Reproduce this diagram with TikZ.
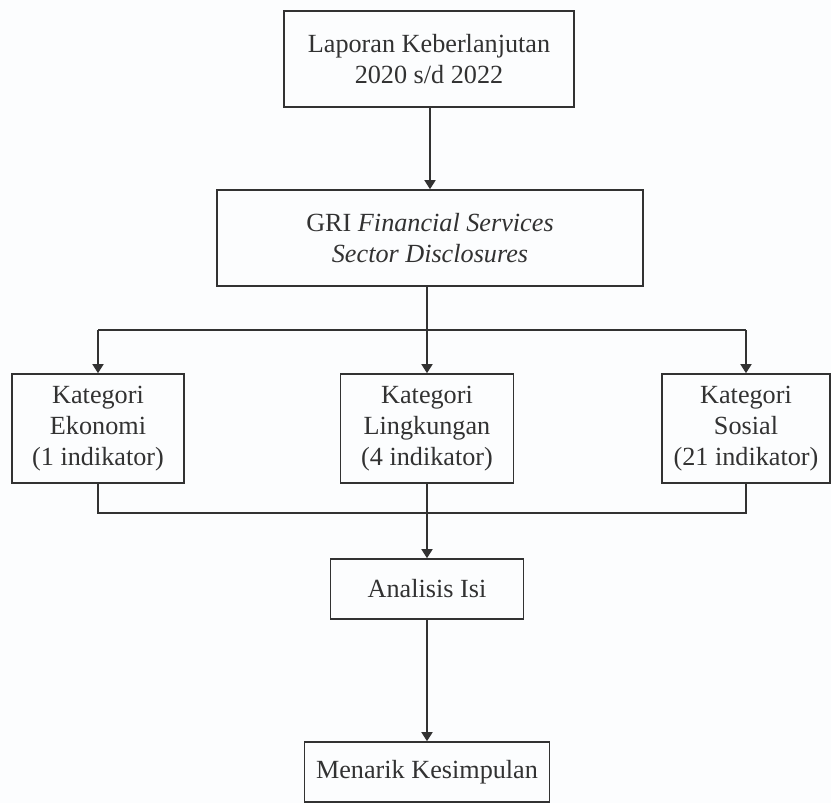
\documentclass[tikz,border=0pt]{standalone}
\usepackage{fontspec}
\setmainfont{Liberation Serif}
\usetikzlibrary{arrows.meta}
\definecolor{ink}{RGB}{50,50,50}
\definecolor{bg}{RGB}{252,253,254}
\begin{document}
\begin{tikzpicture}[x=1pt,y=1pt,
  box/.style={draw=ink, line width=1.6pt, text=ink, align=center, inner sep=0pt,
    font=\fontsize{26.2}{31}\selectfont},
  conn/.style={draw=ink, line width=1.6pt},
  arr/.style={conn, -{Triangle[width=11pt,length=9pt]}}]
\fill[bg] (0,0) rectangle (831,-803);
\useasboundingbox (0,0) rectangle (831,-803);
\node[box, minimum width=290pt, minimum height=96pt] (b1) at (429,-59) {Laporan Keberlanjutan\\2020 s/d 2022};
\node[box, minimum width=426pt, minimum height=96pt] (b2) at (430,-238) {GRI \textit{Financial Services}\\\textit{Sector Disclosures}};
\node[box, minimum width=172pt, minimum height=109pt] (kl) at (98,-428.5) {Kategori\\Ekonomi\\(1 indikator)};
\node[box, minimum width=173pt, minimum height=109pt] (km) at (427,-428.5) {Kategori\\Lingkungan\\(4 indikator)};
\node[box, minimum width=168pt, minimum height=109pt] (kr) at (746,-428.5) {Kategori\\Sosial\\(21 indikator)};
\node[box, minimum width=193pt, minimum height=60pt] (ai) at (427,-589) {Analisis Isi};
\node[box, minimum width=245pt, minimum height=60pt] (mk) at (427,-772) {Menarik Kesimpulan};
\coordinate (j1) at (427,-330);
\coordinate (j2) at (427,-513);
\draw[arr] (b1.south -| b2.north) -- (b2.north);
\draw[conn] (b2.south -| j1) -- (j1);
\draw[conn] (kl.north |- j1) -- (kr.north |- j1);
\draw[arr] (kl.north |- j1) -- (kl.north);
\draw[arr] (j1) -- (km.north);
\draw[arr] (kr.north |- j1) -- (kr.north);
\draw[conn] (kl.south) |- (j2) -| (kr.south);
\draw[arr] (km.south) -- (ai.north);
\draw[arr] (ai.south) -- (mk.north);
\end{tikzpicture}
\end{document}
